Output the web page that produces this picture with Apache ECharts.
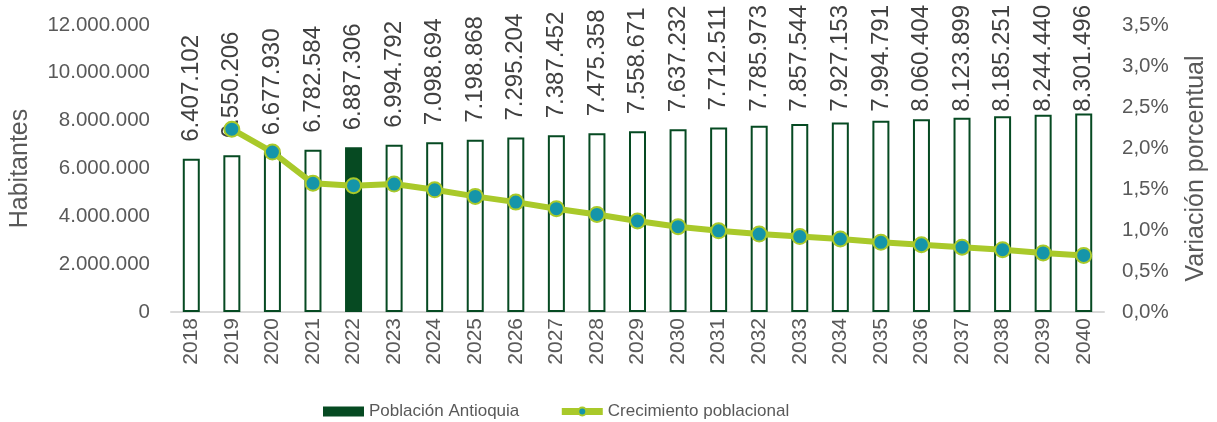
<!DOCTYPE html>
<html>

<head>
	<meta charset="utf-8" />
	<script src="https://cdn.jsdelivr.net/npm/echarts@6.0.0/dist/echarts.min.js"></script>
</head>

<body style="margin: 0; background-color: #ffffff">
	<div id="main" style="width: 1217px; height: 422px;"></div>
</body>

<script type="text/javascript">
	var years = ['2018', '2019', '2020', '2021', '2022', '2023', '2024', '2025', '2026', '2027', '2028',
		'2029', '2030', '2031', '2032', '2033', '2034', '2035', '2036', '2037', '2038', '2039', '2040'];
	var poblacion = [6407102, 6550206, 6677930, 6782584, 6887306, 6994792, 7098694, 7198868, 7295204, 7387452, 7475358,
		7558671, 7637232, 7712511, 7785973, 7857544, 7927153, 7994791, 8060404, 8123899, 8185251, 8244440, 8301496];
	// variacion porcentual (%), 2018 sin dato
	var crecimiento = [null, 2.23, 1.95, 1.57, 1.54, 1.56, 1.49, 1.41, 1.34, 1.26, 1.19,
		1.11, 1.04, 0.99, 0.95, 0.92, 0.89, 0.85, 0.82, 0.79, 0.76, 0.72, 0.69];
	var anioDestacado = '2022';

	var font = 'Liberation Sans';
	var gris = '#595959';
	var verdeOscuro = '#064a22';
	var verdeLinea = '#a9c92a';

	function miles(v) {
		return String(v).replace(/\B(?=(\d{3})+(?!\d))/g, '.');
	}

	var barData = poblacion.map(function (v, i) {
		var destacado = years[i] === anioDestacado;
		return {
			value: v,
			itemStyle: {
				color: destacado ? verdeOscuro : '#ffffff',
				borderColor: verdeOscuro,
				borderWidth: 2
			}
		};
	});

	var myChart = echarts.init(document.getElementById('main'));

	option = {
		backgroundColor: '#ffffff',
		animation: false,
		textStyle: { fontFamily: font },
		grid: { left: 167, right: 109, top: 25, bottom: 110 },
		legend: {
			left: 318,
			top: 398,
			itemWidth: 41,
			itemHeight: 10,
			itemGap: 39,
			textStyle: { fontFamily: font, fontSize: 17, color: gris },
			data: [
				{ name: 'Población Antioquia', icon: 'rect', itemStyle: { color: verdeOscuro, borderWidth: 0 } },
				{ name: 'Crecimiento poblacional', lineStyle: { width: 7 }, itemStyle: { borderWidth: 2 } }
			]
		},
		xAxis: {
			type: 'category',
			data: years,
			axisLine: { lineStyle: { color: '#d9d9d9', width: 2 } },
			axisTick: { show: false },
			axisLabel: {
				rotate: 90,
				margin: 6,
				fontSize: 21,
				color: gris,
				fontFamily: font
			}
		},
		yAxis: [
			{
				type: 'value',
				min: 0,
				max: 12000000,
				interval: 2000000,
				name: 'Habitantes',
				nameLocation: 'middle',
				nameGap: 138,
				nameTextStyle: { fontSize: 25, color: gris, fontFamily: font },
				splitLine: { show: false },
				axisLine: { show: false },
				axisLabel: {
					margin: 21,
					fontSize: 20.5,
					color: gris,
					fontFamily: font,
					formatter: miles
				}
			},
			{
				type: 'value',
				min: 0,
				max: 3.5,
				interval: 0.5,
				name: 'Variación porcentual',
				nameLocation: 'middle',
				nameGap: 80,
				nameTextStyle: { fontSize: 25, color: gris, fontFamily: font },
				splitLine: { show: false },
				axisLine: { show: false },
				axisLabel: {
					margin: 18,
					fontSize: 20.5,
					color: gris,
					fontFamily: font,
					formatter: function (v) { return v.toFixed(1).replace('.', ',') + '%'; }
				}
			}
		],
		series: [
			{
				name: 'Población Antioquia',
				type: 'bar',
				barWidth: 17,
				itemStyle: { color: verdeOscuro },
				data: barData,
				label: {
					show: true,
					position: 'top',
					distance: 17,
					rotate: 90,
					align: 'left',
					verticalAlign: 'middle',
					fontSize: 24,
					color: '#404040',
					fontFamily: font,
					formatter: function (p) { return miles(p.value); }
				},
				// las etiquetas altas se bajan para que no salgan del lienzo
				labelLayout: function (p) {
					var len = Math.max(p.labelRect.width, p.labelRect.height);
					var y = p.rect.y - 17;
					return { y: Math.max(y, 5 + len) };
				}
			},
			{
				name: 'Crecimiento poblacional',
				type: 'line',
				yAxisIndex: 1,
				data: crecimiento,
				symbol: 'circle',
				symbolSize: 15,
				lineStyle: { color: verdeLinea, width: 6 },
				itemStyle: { color: '#1595a9', borderColor: verdeLinea, borderWidth: 2 },
				z: 5
			}
		]
	};

	myChart.setOption(option);
</script>

</html>
